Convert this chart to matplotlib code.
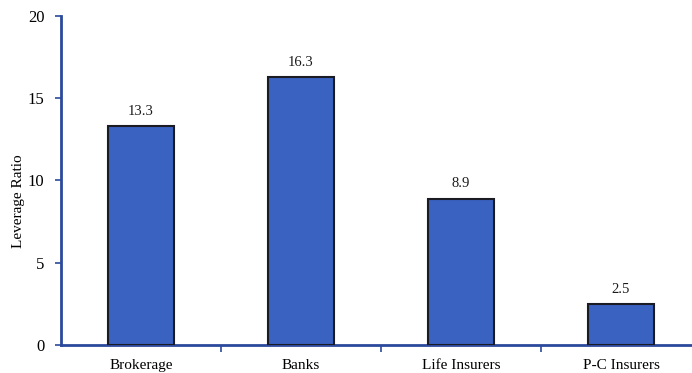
import matplotlib
matplotlib.use("Agg")
import matplotlib.pyplot as plt

categories = ["Brokerage", "Banks", "Life Insurers", "P-C Insurers"]
values = [13.3, 16.3, 8.9, 2.5]
yticks = [0, 5, 10, 15, 20]

plt.rcParams['font.family'] = ['Liberation Serif', 'DejaVu Serif']

fig = plt.figure(figsize=(6.92, 3.73), dpi=100)
ax = fig.add_axes([61/692, 1 - 345/373, 640/692, 329/373])

axis_color = "#2b4a9c"
bars = ax.bar(range(len(categories)), values, width=0.41,
              color="#3a62c0", edgecolor="#1b1b24", linewidth=1.5, zorder=3)
for i, v in enumerate(values):
    ax.annotate(f"{v}", (i, v), xytext=(0, 6), textcoords="offset points",
                ha="center", va="bottom", fontsize=10.5, color="#1a1a1a")

ax.set_xlim(-0.5, 3.5)
ax.set_ylim(0, 20)
ax.set_yticks(yticks)
ax.set_xticks(range(len(categories)))
ax.set_xticklabels(categories, fontsize=11)
ax.set_xticks([0.5, 1.5, 2.5], minor=True)
ax.tick_params(axis='x', which='major', length=0, pad=10)
ax.tick_params(axis='x', which='minor', length=5, color=axis_color, width=1.2, direction='out')
ax.tick_params(axis='y', length=4, color=axis_color, width=1.2, labelsize=12, pad=8)
ax.set_ylabel("Leverage Ratio", fontsize=11)
ax.yaxis.set_label_coords(-36/640, (345 - 201) / 329)

for s in ["top", "right"]:
    ax.spines[s].set_visible(False)
for s in ["left", "bottom"]:
    ax.spines[s].set_color(axis_color)
    ax.spines[s].set_linewidth(2)

fig.savefig("out.png", dpi=100)
